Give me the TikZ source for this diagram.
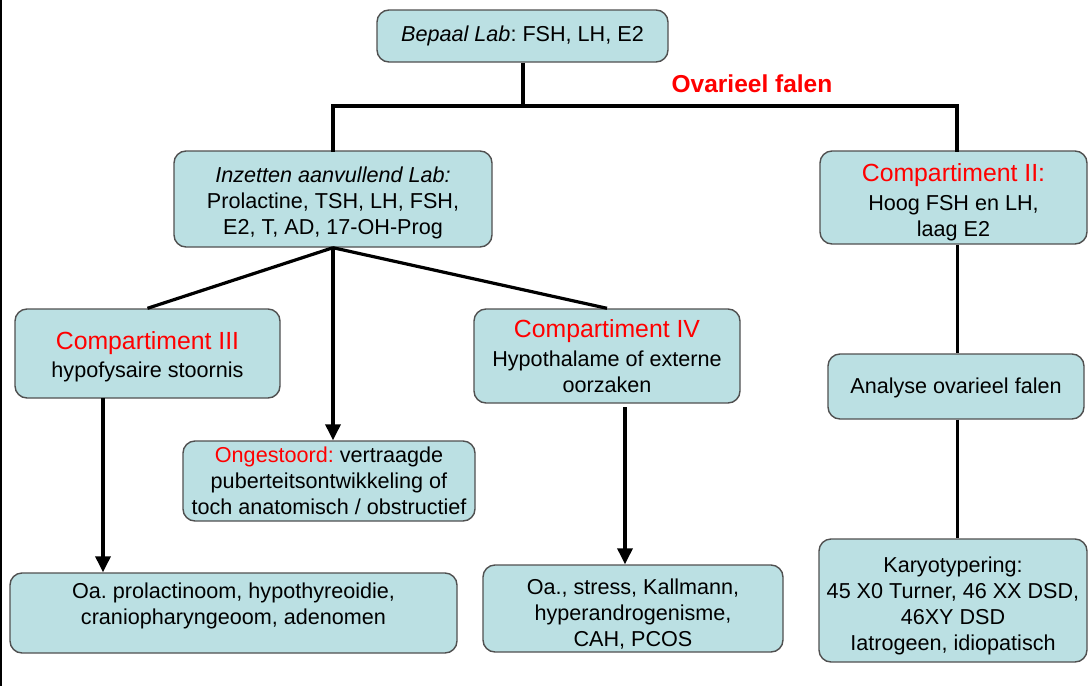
\documentclass[tikz,border=0pt]{standalone}
\usepackage{fontspec}
\setmainfont{Liberation Sans}
\frenchspacing
\usetikzlibrary{arrows.meta,calc}
\definecolor{boxfill}{RGB}{187,224,227}
\definecolor{boxline}{RGB}{80,80,80}
\definecolor{ttl}{RGB}{255,0,0}
\newcommand{\bodyfont}{\fontsize{21.6}{26}\selectfont}
\newcommand{\titlefont}{\fontsize{24.8}{28}\selectfont}
\begin{document}
\begin{tikzpicture}[x=1pt,y=-1pt,
  box/.style={draw=boxline,line width=1.4pt,fill=boxfill,rounded corners=12pt,
    align=center,inner sep=0pt,font=\bodyfont,text=black},
  txt/.style={align=center,inner sep=0pt,font=\bodyfont,text=black},
  thick4/.style={line width=4pt},
  thick3/.style={line width=3.2pt},
  arr/.style={line width=3.4pt,-{Triangle[width=15pt,length=16pt]}}]
\useasboundingbox (0,0) rectangle (1088,686);
\draw[line width=1.5pt] (1,0) -- (1,686);
% boxes
\node[box,minimum width=291pt,minimum height=52pt] (top) at (522.5,36) {\textit{Bepaal Lab}: FSH, LH, E2};
\node[box,minimum width=318pt,minimum height=96pt] (inz) at (333,199) {};
\node[txt] (inztext) at (333,203) {\textit{Inzetten aanvullend Lab:}\\Prolactine, TSH, LH, FSH,\\E2, T, AD, 17-OH-Prog};
\node[box,minimum width=267pt,minimum height=93pt] (c2) at (953.5,197.5) {};
\node[txt] (c2text) at (953.5,202.5) {{\titlefont\color{ttl}Compartiment II:}\\[3pt]Hoog FSH en LH,\\laag E2};
\node[box,minimum width=265pt,minimum height=89pt] (c3) at (147.5,353.5) {};
\node[txt] (c3text) at (147.5,357) {{\titlefont\color{ttl}Compartiment III}\\[2pt]hypofysaire stoornis};
\node[box,minimum width=266pt,minimum height=94pt] (c4) at (607,356) {{\titlefont\color{ttl}Compartiment IV}\\[3pt]Hypothalame of externe\\oorzaken};
\node[box,minimum width=292pt,minimum height=80pt] (ong) at (329,481) {{\color{ttl}Ongestoord:} vertraagde\\puberteitsontwikkeling of\\toch anatomisch / obstructief};
\node[box,minimum width=447pt,minimum height=80pt] (bl) at (233.5,613) {};
\node[txt] (bltext) at (233.5,606) {Oa. prolactinoom, hypothyreoidie,\\craniopharyngeoom, adenomen};
\node[box,minimum width=300pt,minimum height=87pt] (bm) at (633,608.5) {};
\node[txt] (bmtext) at (633,614.5) {Oa., stress, Kallmann,\\hyperandrogenisme,\\CAH, PCOS};
\node[box,minimum width=256pt,minimum height=65pt] (an) at (956,386.5) {};
\node[txt] (antext) at (956,388) {Analyse ovarieel falen};
\node[box,minimum width=268pt,minimum height=123pt] (ka) at (953,600.5) {};
\node[txt] (katext) at (953,605.5) {Karyotypering:\\45 X0 Turner, 46 XX DSD,\\46XY DSD\\Iatrogeen, idiopatisch};
\node[font=\fontsize{24.5}{28}\selectfont\bfseries,text=ttl,inner sep=0pt] (of) at (752,84) {Ovarieel falen};
% top tree
\coordinate (hl) at (333,106);
\coordinate (hr) at (957,106);
\draw[thick4] (top.south) -- (top.south |- hl);
\draw[thick4,line cap=rect] (hl |- inz.north) -- (hl) -- (hr) -- (hr |- c2.north);
% from Inzetten
\draw[thick3] (inz.south) -- (c3.north);
\draw[thick3] (inz.south) -- (c4.north);
\draw[arr] (inz.south) -- (inz.south |- ong.north);
% Comp III arrow
\coordinate (a3) at (103,398);
\draw[arr] (a3) -- (a3 |- bl.north);
% Comp IV arrow
\coordinate (a4) at (625,407);
\draw[arr] (a4) -- (a4 |- bm.north);
% right column
\draw[line width=3pt] (c2.south -| hr) -- (an.north -| hr);
\draw[line width=3pt] (an.south -| hr) -- (ka.north -| hr);
\end{tikzpicture}
\end{document}
